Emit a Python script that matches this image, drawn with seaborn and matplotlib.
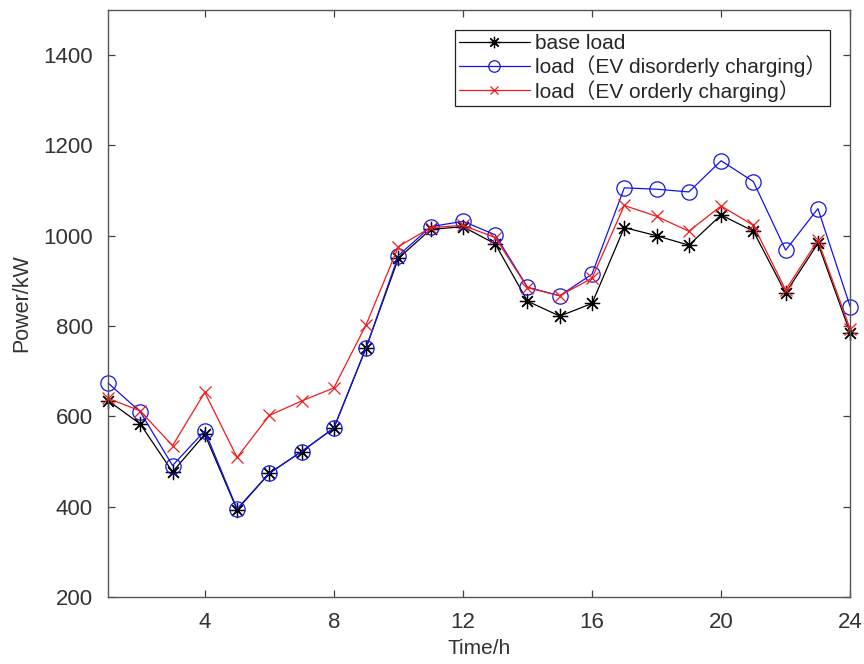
import matplotlib
matplotlib.use("Agg")
import matplotlib.pyplot as plt
import seaborn as sns
import pandas as pd

# Hourly load profiles (kW)
hours = list(range(1, 25))
base_load = [635, 583, 477, 560, 393, 474, 522, 574, 752, 950, 1014, 1020,
             982, 855, 822, 850, 1018, 1000, 979, 1046, 1010, 873, 983, 785]
disorderly_load = [674, 610, 491, 568, 395, 474, 522, 574, 752, 956, 1020, 1032,
                   1002, 886, 867, 915, 1106, 1103, 1097, 1166, 1120, 968, 1060, 843]
orderly_load = [640, 612, 535, 653, 509, 602, 634, 663, 803, 976, 1018, 1023,
                996, 885, 867, 906, 1067, 1043, 1010, 1066, 1023, 880, 990, 793]

labels = ["base load", "load（EV disorderly charging）", "load（EV orderly charging）"]
colors = ["#000000", "#1414e6", "#ee1c1c"]
markers = [(8, 2, 0), "o", "x"]
sizes = [11, 11, 8]

sns.set_theme(style="ticks")
plt.rcParams["font.family"] = ["Liberation Sans", "Noto Sans CJK SC", "DejaVu Sans"]

df = pd.DataFrame({
    "hour": hours * 3,
    "power": base_load + disorderly_load + orderly_load,
    "series": [labels[0]] * 24 + [labels[1]] * 24 + [labels[2]] * 24,
})

fig = plt.figure(figsize=(8.64, 6.64), dpi=100)
ax = fig.add_axes([0.125, 0.101, 0.859, 0.884])

for lab, col, mk, ms in zip(labels, colors, markers, sizes):
    sub = df[df["series"] == lab]
    kw = dict(marker=mk, markersize=ms, markeredgewidth=0.9,
              linewidth=0.9, color=col, markeredgecolor=col, clip_on=False)
    if mk == "o":
        kw.update(markerfacecolor="none")
    sns.lineplot(data=sub, x="hour", y="power", ax=ax, label=lab, **kw)

ax.set_xlim(1, 24)
ax.set_ylim(200, 1500)
ax.set_xticks([4, 8, 12, 16, 20, 24])
ax.set_yticks([200, 400, 600, 800, 1000, 1200, 1400])
ax.set_xlabel("Time/h", fontsize=15, color="#333333", labelpad=4)
ax.set_ylabel("Power/kW", fontsize=15.5, color="#333333", labelpad=8)
ax.tick_params(direction="in", top=True, right=True, length=5, width=0.9,
               labelsize=16, colors="#404040", labelcolor="#333333", pad=11)
for sp in ax.spines.values():
    sp.set_visible(True)
    sp.set_color("#555555")
    sp.set_linewidth(1.0)

leg = ax.legend(loc="upper right", bbox_to_anchor=(0.973, 0.966), borderaxespad=0,
                fontsize=15, frameon=True, fancybox=False, framealpha=1,
                edgecolor="#222222", handlelength=3.4, handletextpad=0.25,
                labelspacing=0.12, borderpad=0.2, numpoints=1, markerscale=0.75)
leg.get_frame().set_linewidth(0.9)

fig.savefig("out.png", dpi=100, facecolor="white")
